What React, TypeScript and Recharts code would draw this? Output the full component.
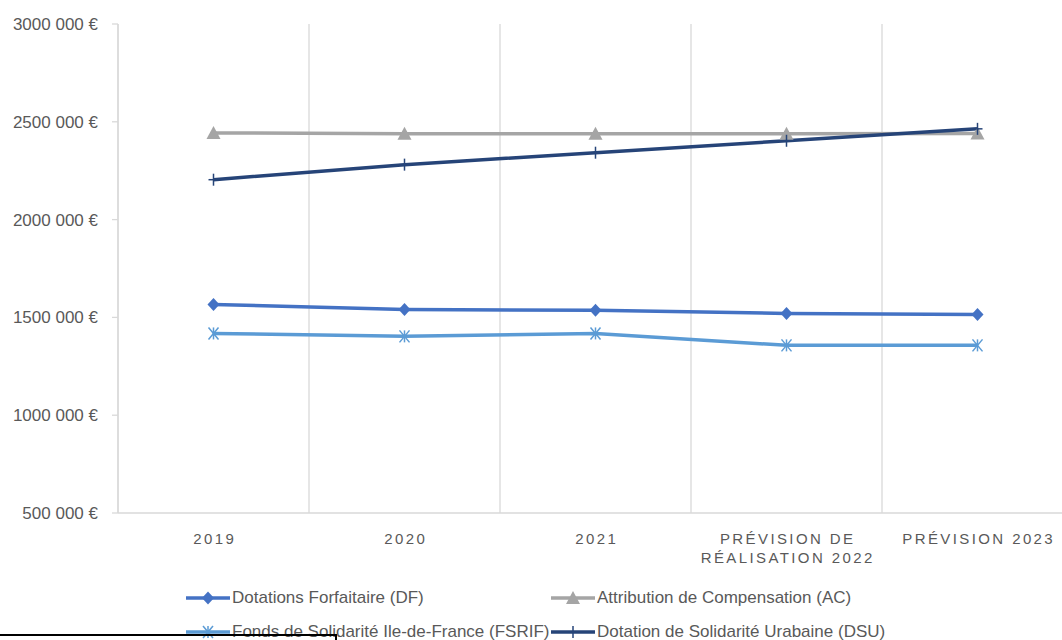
import { LineChart, Line, XAxis, YAxis, CartesianGrid } from "recharts";

const categories = ["2019", "2020", "2021", "PRÉVISION DE\nRÉALISATION 2022", "PRÉVISION 2023"];
const dotationsForfaitaire = [1566000, 1541000, 1536000, 1520000, 1515000];
const attributionCompensation = [2443000, 2439000, 2439000, 2439000, 2440000];
const fondsSolidariteIdf = [1418000, 1403000, 1418000, 1357000, 1357000];
const dotationSolidariteUrbaine = [2204000, 2281000, 2342000, 2403000, 2464000];
const yTicks = [500000, 1000000, 1500000, 2000000, 2500000, 3000000];

const series = [
  { key: "df", name: "Dotations Forfaitaire (DF)", color: "#4472C4", marker: "diamond", values: dotationsForfaitaire },
  { key: "ac", name: "Attribution de Compensation (AC)", color: "#A5A5A5", marker: "triangle", values: attributionCompensation },
  { key: "fsrif", name: "Fonds de Solidarité Ile-de-France (FSRIF)", color: "#5B9BD5", marker: "star", values: fondsSolidariteIdf },
  { key: "dsu", name: "Dotation de Solidarité Urabaine (DSU)", color: "#264478", marker: "plus", values: dotationSolidariteUrbaine },
];

const data = categories.map((c, i) => {
  const row: Record<string, number> = { x: i };
  series.forEach((s) => (row[s.key] = s.values[i]));
  return row;
});
const xTicks = categories.map((_, i) => i);
const gridTicks = categories.slice(1).map((_, i) => i + 0.5);

const FONT = "'Liberation Sans', Arial, sans-serif";
const TEXT = "#595959";
const AXIS = "#d9d9d9";

function Marker({ type, color, cx, cy }: { type: string; color: string; cx: number; cy: number }) {
  if (type === "diamond") {
    return <polygon points={`${cx},${cy - 6.5} ${cx + 6},${cy} ${cx},${cy + 6.5} ${cx - 6},${cy}`} fill={color} />;
  }
  if (type === "triangle") {
    return <polygon points={`${cx},${cy - 7} ${cx + 7},${cy + 6} ${cx - 7},${cy + 6}`} fill={color} />;
  }
  if (type === "star") {
    return (
      <g stroke={color} strokeWidth={1.5}>
        <line x1={cx - 5} y1={cy - 6} x2={cx + 5} y2={cy + 6} />
        <line x1={cx + 5} y1={cy - 6} x2={cx - 5} y2={cy + 6} />
        <line x1={cx} y1={cy - 6} x2={cx} y2={cy + 6} />
      </g>
    );
  }
  return (
    <g stroke={color} strokeWidth={1.5}>
      <line x1={cx} y1={cy - 6} x2={cx} y2={cy + 6} />
      <line x1={cx - 5} y1={cy} x2={cx + 5} y2={cy} />
    </g>
  );
}

function XTick(props: any) {
  const { x, y, payload } = props;
  const lines = categories[payload.value].split("\n");
  return (
    <text x={x} y={y} textAnchor="middle" fill={TEXT} fontSize={15} letterSpacing={2.4} fontFamily={FONT}>
      {lines.map((l, i) => (
        <tspan key={i} x={x + 1.2} dy={i === 0 ? 29 : 19}>
          {l}
        </tspan>
      ))}
    </text>
  );
}

function Legend() {
  const cols = [186, 551];
  const rows = [598, 632];
  return (
    <>
      {series.map((s, i) => (
        <div
          key={s.key}
          style={{
            position: "absolute",
            left: cols[i % 2],
            top: rows[Math.floor(i / 2)] - 10,
            height: 20,
            display: "flex",
            alignItems: "center",
            whiteSpace: "nowrap",
            fontSize: 17,
            color: TEXT,
            fontFamily: FONT,
          }}
        >
          <svg width={46} height={20}>
            <line x1={0} y1={10} x2={44} y2={10} stroke={s.color} strokeWidth={3.5} />
            <Marker type={s.marker} color={s.color} cx={22} cy={10} />
          </svg>
          <span>{s.name}</span>
        </div>
      ))}
    </>
  );
}

export default function App() {
  return (
    <div style={{ position: "absolute", left: 0, top: 0, width: 1062, height: 640, overflow: "hidden", background: "#fff" }}>
      <LineChart width={1090} height={640} data={data} margin={{ top: 24, right: 17, bottom: 0, left: 0 }}>
        <CartesianGrid horizontal={false} stroke={AXIS} strokeWidth={1.3} xAxisId="grid" />
        <XAxis
          dataKey="x"
          type="number"
          domain={[-0.5, categories.length - 0.5]}
          ticks={xTicks}
          interval={0}
          height={127}
          tick={<XTick />}
          tickLine={false}
          tickSize={0}
          axisLine={{ stroke: AXIS, strokeWidth: 1.3 }}
        />
        <XAxis
          xAxisId="grid"
          dataKey="x"
          type="number"
          domain={[-0.5, categories.length - 0.5]}
          ticks={gridTicks}
          interval={0}
          hide
        />
        <YAxis
          type="number"
          domain={[500000, 3000000]}
          ticks={yTicks}
          interval={0}
          width={118}
          tickSize={6}
          tickMargin={14}
          tickFormatter={(v: number) => `${v / 1000} 000 €`}
          tick={{ fill: TEXT, fontSize: 17, fontFamily: FONT }}
          tickLine={{ stroke: AXIS, strokeWidth: 1.3 }}
          axisLine={{ stroke: AXIS, strokeWidth: 1.3 }}
        />
        {series.map((s) => (
          <Line
            key={s.key}
            dataKey={s.key}
            name={s.name}
            type="linear"
            stroke={s.color}
            strokeWidth={3.5}
            isAnimationActive={false}
            activeDot={false}
            dot={(p: any) => <Marker key={`${s.key}-${p.index}`} type={s.marker} color={s.color} cx={p.cx} cy={p.cy} />}
          />
        ))}
      </LineChart>
      <Legend />
      <div style={{ position: "absolute", left: 0, top: 634, width: 336, height: 1.5, background: "#000" }} />
      <div style={{ position: "absolute", left: 335, top: 634, width: 1.5, height: 6, background: "#000" }} />
    </div>
  );
}
